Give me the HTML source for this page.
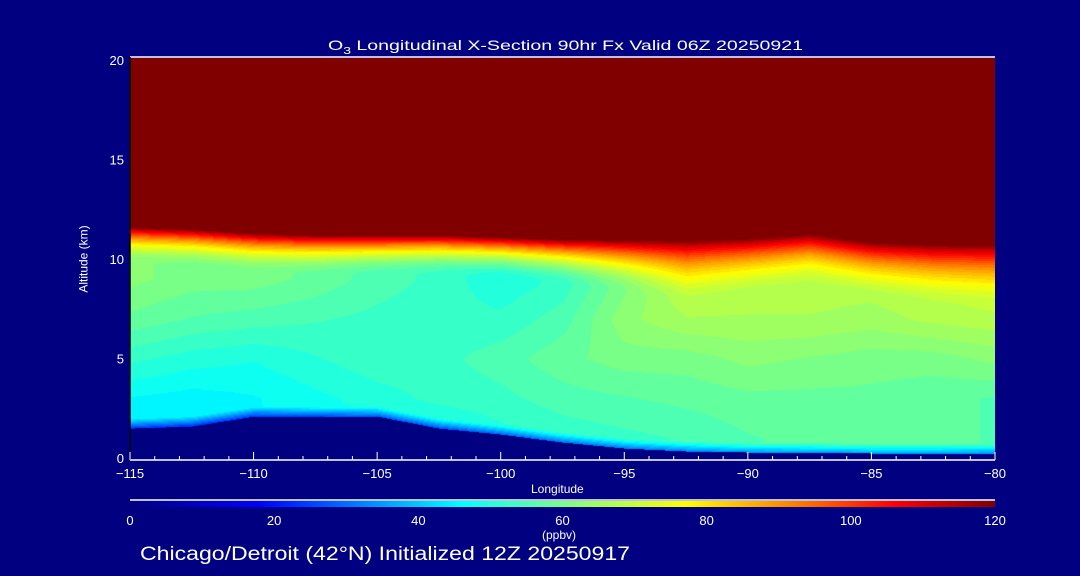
<!DOCTYPE html>
<html><head><meta charset="utf-8">
<style>
html,body{margin:0;padding:0;background:#000080;}
#wrap{position:relative;width:1080px;height:576px;background:#000080;overflow:hidden;font-family:"Liberation Sans",sans-serif;color:#fff;}
.t{position:absolute;white-space:nowrap;font-size:13px;}
canvas{position:absolute;}
</style></head><body>
<div id="wrap">
<canvas id="plot" width="865" height="401" style="left:130px;top:58px;"></canvas>
<svg id="ax" width="1080" height="576" style="position:absolute;left:0;top:0">
<text x="328" y="50" fill="#fff" font-size="14" font-family="Liberation Sans" textLength="475" lengthAdjust="spacingAndGlyphs">O<tspan font-size="10" dy="4">3</tspan><tspan dy="-4"> Longitudinal X-Section 90hr  Fx Valid 06Z 20250921</tspan></text>
<text x="140" y="560" fill="#fff" font-size="19" font-family="Liberation Sans" textLength="490" lengthAdjust="spacingAndGlyphs">Chicago/Detroit (42°N) Initialized 12Z 20250917</text>
</svg>
<div class="t" style="left:50px;top:252px;transform:rotate(-90deg);font-size:12px;">Altitude (km)</div>
<div class="t" style="left:531px;top:482px;font-size:12px;">Longitude</div>
<div class="t" style="left:542px;top:528px;font-size:12px;">(ppbv)</div>
</div>
<script>
const lons=[-115,-112.5,-110,-107.5,-105,-102.5,-100,-97.5,-95,-92.5,-90,-87.5,-85,-82.5,-80];
const surfaceKm=[1.5,1.6,2.1,2.1,2.1,1.5,1.2,0.8,0.5,0.35,0.3,0.3,0.25,0.25,0.25];
const tropoKm=[11.7,11.6,11.4,11.3,11.3,11.3,11.2,11.1,11.1,11.1,11.2,11.4,11.0,10.9,10.9];
const bandKm=[1.9,2.0,2.1,2.1,2.1,2.1,2.2,2.4,2.8,3.2,3.0,2.8,3.0,3.2,3.3];
const alts=[1,3,5,7,9];
const val1km=[45,44,46,47,48,47,50,52,53,54,56,57,57,57,56];
const val3km=[46,45,46,48,50,52,53,55,56,57,58,58,58,57,56];
const val5km=[52,50,49,51,53,53,55,58,60,60,62,61,60,60,62];
const val7km=[58,56,55,54,53,52,52,55,63,66,66,66,65,67,68];
const val9km=[62,60,60,58,55,53,49,52,60,70,68,68,68,70,72];
const xTicks=[-115,-110,-105,-100,-95,-90,-85,-80];
const yTicks=[0,5,10,15,20];
const cbTicks=[0,20,40,60,80,100,120];

const X0=130,X1=995,Y0=458,Y1=60;
const xs=l=>X0+(l+115)/35*(X1-X0);
const ys=a=>Y0-a/20*(Y0-Y1);
const stops=[[0,[0,0,128]],[18,[0,0,255]],[32,[0,128,255]],[46,[0,255,255]],[61,[128,255,128]],[77,[255,255,0]],[92,[255,128,0]],[106,[255,0,0]],[120,[128,0,0]]];
function col(v){v=Math.max(0,Math.min(120,v));for(let i=1;i<stops.length;i++){if(v<=stops[i][0]){const a=stops[i-1],b=stops[i],t=(v-a[0])/(b[0]-a[0]);return a[1].map((c,k)=>Math.round(c+(b[1][k]-c)*t));}}return stops[stops.length-1][1];}
function interp(arr,l){let f=(l+115)/2.5;let i=Math.min(arr.length-2,Math.max(0,Math.floor(f)));let t=f-i;return arr[i]*(1-t)+arr[i+1]*t;}
const profs=[val1km,val3km,val5km,val7km,val9km];
function value(l,a){
  const s=interp(surfaceKm,l),tp=interp(tropoKm,l),bw=interp(bandKm,l);
  if(a<s)return null;
  const pv=profs.map(p=>interp(p,l));
  let v;
  if(a<=alts[0])v=pv[0];
  else if(a>=alts[4])v=pv[4];
  else{let i=Math.floor((a-1)/2);const t=(a-alts[i])/2;v=pv[i]*(1-t)+pv[i+1]*t;}
  const d=a-s; if(d<0.5)v=v-(0.5-d)/0.5*22;
  const tb=tp-bw;
  if(a>tb){const t=Math.min(1,(a-tb)/bw);v=v+(126-v)*t*t;}
  return Math.round(v/2.5)*2.5;
}
const cv=document.getElementById('plot'),ctx=cv.getContext('2d');
const W=cv.width,H=cv.height,img=ctx.createImageData(W,H);
for(let py=0;py<H;py++){const a=(Y0-(58+py))/(Y0-Y1)*20;
 for(let px=0;px<W;px++){const l=-115+(px)/(W)*35;const v=value(l,a);const o=(py*W+px)*4;
  const c=v===null?[0,0,128]:col(v);img.data[o]=c[0];img.data[o+1]=c[1];img.data[o+2]=c[2];img.data[o+3]=255;}}
ctx.putImageData(img,0,0);

const NS='http://www.w3.org/2000/svg',svg=document.getElementById('ax');
function mk(tag,attrs,name){const e=document.createElementNS(NS,tag);for(const k in attrs)e.setAttribute(k,attrs[k]);


svg.appendChild(e);return e;}
mk('line',{x1:X0,y1:57,x2:X1,y2:57,stroke:'#fff','stroke-width':1.5},'plot-top-border');
mk('line',{x1:X0,y1:460,x2:X1,y2:460,stroke:'#fff','stroke-width':1.5},'x-axis-line');
mk('line',{x1:X0,y1:57,x2:X0,y2:460,stroke:'#000','stroke-width':1.5},'y-axis-line');
for(let l=-115;l<=-80;l+=1){const big=xTicks.includes(l);mk('line',{x1:xs(l),y1:460,x2:xs(l),y2:460-(big?8:4),stroke:'#fff'},'x-tick');}
xTicks.forEach(l=>{const t=mk('text',{x:xs(l),y:478,fill:'#fff','font-size':13,'text-anchor':'middle','font-family':'Liberation Sans'},'x-tick-label');t.textContent=String(l).replace('-','\u2212');});
yTicks.forEach(a=>{const t=mk('text',{x:124,y:ys(a)+5,fill:'#fff','font-size':13,'text-anchor':'end','font-family':'Liberation Sans'},'y-tick-label');t.textContent=a;});
const defs=mk('defs',{},'defs');const g=document.createElementNS(NS,'linearGradient');g.setAttribute('id','cg');defs.appendChild(g);
stops.forEach(s=>{const st=document.createElementNS(NS,'stop');st.setAttribute('offset',s[0]/120);st.setAttribute('stop-color','rgb('+s[1].join(',')+')');g.appendChild(st);});
mk('line',{x1:X0,y1:500,x2:X1,y2:500,stroke:'#fff','stroke-width':1.5},'colorbar-top-line');
mk('rect',{x:X0,y:501,width:X1-X0,height:6,fill:'url(#cg)'},'colorbar');
cbTicks.forEach(v=>{const t=mk('text',{x:X0+v/120*(X1-X0),y:525,fill:'#fff','font-size':13,'text-anchor':'middle','font-family':'Liberation Sans'},'colorbar-tick-label');t.textContent=v;});
</script>
</body></html>
